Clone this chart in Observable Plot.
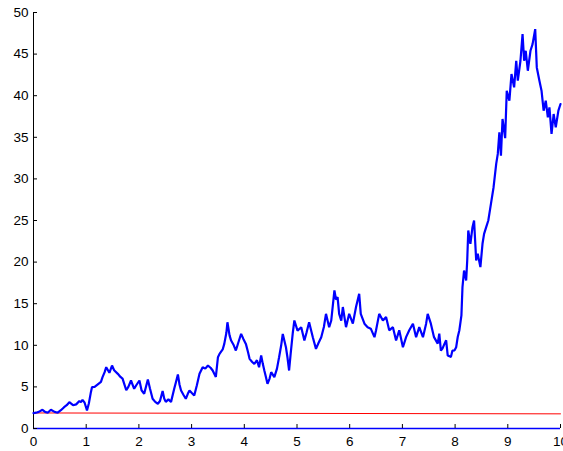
<!DOCTYPE html>
<html><head>
<meta charset="utf-8">
<script src="https://cdn.jsdelivr.net/npm/d3@7"></script>
<script src="https://cdn.jsdelivr.net/npm/@observablehq/plot@0.6"></script>
<style>body{margin:0;background:#fff;overflow:hidden}</style>
</head><body><div id="chart"></div>
<script>
const pathT = [0.00,0.05,0.10,0.17,0.22,0.27,0.33,0.40,0.46,0.52,0.58,0.63,0.68,0.75,0.81,0.87,0.90,0.93,0.97,1.015,1.05,1.09,1.11,1.16,1.22,1.28,1.31,1.35,1.38,1.44,1.49,1.53,1.60,1.65,1.69,1.72,1.76,1.80,1.85,1.91,1.95,2.01,2.05,2.10,2.17,2.21,2.26,2.31,2.36,2.40,2.45,2.48,2.51,2.56,2.61,2.67,2.70,2.74,2.77,2.80,2.85,2.89,2.93,2.96,3.00,3.05,3.10,3.15,3.21,3.26,3.31,3.36,3.40,3.46,3.50,3.53,3.59,3.62,3.66,3.68,3.72,3.75,3.80,3.84,3.89,3.94,3.98,4.03,4.07,4.10,4.15,4.19,4.24,4.28,4.32,4.35,4.38,4.41,4.44,4.48,4.51,4.57,4.62,4.66,4.70,4.73,4.79,4.82,4.85,4.88,4.92,4.95,5.01,5.08,5.14,5.18,5.23,5.30,5.36,5.41,5.46,5.51,5.55,5.61,5.65,5.71,5.74,5.77,5.80,5.84,5.87,5.93,5.99,6.06,6.12,6.18,6.21,6.28,6.34,6.40,6.47,6.50,6.56,6.63,6.69,6.75,6.82,6.88,6.94,7.01,7.07,7.13,7.20,7.26,7.32,7.39,7.45,7.48,7.54,7.60,7.67,7.70,7.73,7.76,7.80,7.83,7.86,7.89,7.92,7.95,7.99,8.02,8.05,8.08,8.12,8.14,8.17,8.21,8.23,8.25,8.29,8.33,8.36,8.40,8.43,8.48,8.52,8.55,8.59,8.63,8.68,8.73,8.78,8.81,8.84,8.87,8.90,8.95,8.98,9.03,9.07,9.12,9.16,9.19,9.24,9.28,9.31,9.34,9.38,9.43,9.47,9.52,9.55,9.60,9.64,9.68,9.72,9.76,9.79,9.83,9.87,9.91,9.96,10.0];
const pathV = [1.85,1.9,2.0,2.25,2.0,1.9,2.25,2.0,1.9,2.2,2.56,2.8,3.16,2.8,2.9,3.3,3.16,3.45,3.1,2.16,3.0,4.4,4.97,5.0,5.3,5.6,6.17,6.77,7.37,6.7,7.57,7.0,6.57,6.2,6.0,5.4,4.6,5.0,5.77,4.77,5.2,5.77,4.6,4.17,5.9,4.8,3.57,3.2,2.97,3.3,4.5,3.6,3.2,3.5,3.2,4.77,5.5,6.5,5.3,4.57,4.0,3.57,4.2,4.57,4.3,3.97,5.2,6.57,7.37,7.2,7.57,7.3,6.97,6.2,8.57,8.97,9.5,10.17,11.5,12.77,11.2,10.57,10.0,9.37,10.4,11.37,10.8,10.17,9.2,8.37,8.0,7.77,8.2,7.37,8.77,7.8,6.97,6.2,5.37,6.0,6.77,6.17,7.2,8.57,10.0,11.37,9.77,8.5,6.97,9.0,11.5,12.98,11.77,12.17,10.57,11.5,12.77,10.97,9.57,10.3,10.97,12.2,13.78,12.17,12.98,16.59,15.5,15.8,13.78,12.97,14.6,12.18,13.78,12.6,14.6,16.19,13.78,12.6,12.18,12.0,10.98,11.8,13.78,12.98,13.4,11.8,12.18,10.58,11.8,9.77,10.98,11.8,12.6,10.98,12.18,10.98,12.6,13.78,12.6,10.98,10.2,11.4,9.37,9.6,10.2,10.6,8.77,8.7,8.6,9.37,9.4,9.77,11.0,11.78,13.6,16.98,18.99,17.8,20.19,23.8,22.2,24.2,25.0,20.2,21.0,19.4,22.2,23.4,24.2,25.0,27.0,29.0,31.8,33.0,35.6,32.8,37.2,34.9,40.6,39.4,42.6,41.0,44.2,41.8,44.2,47.4,44.2,45.4,43.0,45.4,46.2,48.0,43.4,41.8,40.6,38.2,39.4,37.4,38.6,35.4,37.8,36.2,38.2,39.0];
const redT = [0, 10];
const redV = [1.87, 1.76];
const zeroV = [0];
const xTicks = [0,1,2,3,4,5,6,7,8,9,10];
const yTicks = [0,5,10,15,20,25,30,35,40,45,50];

const W = 563, H = 451, ml = 33, mr = 3, mt = 12, mb = 23;
const blueData = pathT.map((t, i) => ({t, v: pathV[i]}));
const redData = redT.map((t, i) => ({t, v: redV[i]}));

const chart = Plot.plot({
  width: W, height: H,
  marginLeft: ml, marginRight: mr, marginTop: mt, marginBottom: mb,
  style: {fontFamily: "'Liberation Sans', Arial, Helvetica, sans-serif", fontSize: "13.5px", background: "#fff", color: "#000"},
  x: {domain: [0, 10], label: null},
  y: {domain: [0, 50], label: null},
  marks: [
    Plot.axisX(xTicks, {tickSize: 0, tickPadding: 8, fontSize: 13.5, label: null}),
    Plot.axisY(yTicks, {tickSize: 0, tickPadding: 5, fontSize: 13.5, label: null}),
    Plot.ruleX([0], {stroke: "#000", strokeWidth: 1}),
    Plot.line(redData, {x: "t", y: "v", stroke: "#ff0000", strokeWidth: 1}),
    Plot.line(blueData, {x: "t", y: "v", stroke: "#0000ff", strokeWidth: 2.2, strokeLinejoin: "miter"}),
    Plot.ruleY(zeroV, {stroke: "#0000ff", strokeWidth: 1.5}),
    Plot.tickY(yTicks, {y: d => d, stroke: "#000", insetRight: W - ml - mr - 4}),
    Plot.tickX(xTicks, {x: d => d, stroke: "#000", insetTop: H - mt - mb - 4})
  ]
});
document.getElementById("chart").appendChild(chart);
</script>
</body></html>
